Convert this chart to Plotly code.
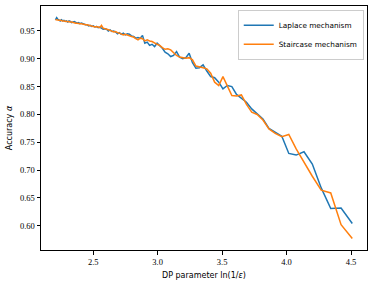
import numpy as np
import plotly.graph_objects as go

# privacy budgets epsilon (x axis shows ln(1/epsilon))
eps = [round(0.011 + 0.001 * i, 3) for i in range(100)]

laplace = [0.604, 0.632, 0.631, 0.668, 0.711, 0.733, 0.727, 0.730, 0.761, 0.769,
           0.775, 0.792, 0.801, 0.810, 0.822, 0.829, 0.836, 0.850, 0.852, 0.846,
           0.858, 0.866, 0.868, 0.878, 0.889, 0.884, 0.883, 0.893, 0.910, 0.902,
           0.900, 0.903, 0.913, 0.906, 0.904, 0.909, 0.912, 0.919, 0.923, 0.928,
           0.922, 0.926, 0.924, 0.930, 0.928, 0.942, 0.937, 0.938, 0.937, 0.940,
           0.941, 0.944, 0.945, 0.943, 0.946, 0.944, 0.947, 0.945, 0.948, 0.950,
           0.949, 0.952, 0.950, 0.953, 0.954, 0.953, 0.955, 0.957, 0.956, 0.958,
           0.957, 0.959, 0.958, 0.960, 0.959, 0.961, 0.961, 0.962, 0.962, 0.964,
           0.963, 0.965, 0.964, 0.965, 0.967, 0.966, 0.965, 0.967, 0.968, 0.966,
           0.968, 0.967, 0.969, 0.968, 0.970, 0.968, 0.969, 0.971, 0.974, 0.970]

staircase = [0.577, 0.602, 0.659, 0.664, 0.689, 0.713, 0.738, 0.764, 0.760, 0.766,
             0.774, 0.790, 0.800, 0.804, 0.818, 0.835, 0.833, 0.834, 0.852, 0.868,
             0.852, 0.858, 0.874, 0.882, 0.884, 0.885, 0.887, 0.898, 0.902, 0.901,
             0.902, 0.903, 0.906, 0.911, 0.916, 0.918, 0.917, 0.920, 0.924, 0.926,
             0.929, 0.931, 0.932, 0.934, 0.932, 0.936, 0.937, 0.934, 0.936, 0.939,
             0.940, 0.941, 0.942, 0.944, 0.943, 0.945, 0.946, 0.947, 0.949, 0.948,
             0.950, 0.951, 0.952, 0.953, 0.953, 0.955, 0.960, 0.956, 0.957, 0.958,
             0.957, 0.958, 0.959, 0.960, 0.960, 0.961, 0.961, 0.962, 0.962, 0.963,
             0.963, 0.964, 0.964, 0.964, 0.965, 0.965, 0.966, 0.966, 0.967, 0.967,
             0.967, 0.968, 0.968, 0.968, 0.969, 0.969, 0.969, 0.970, 0.970, 0.970]

x_ticks = [2.5, 3.0, 3.5, 4.0, 4.5]
y_ticks = [0.60, 0.65, 0.70, 0.75, 0.80, 0.85, 0.90, 0.95]

x = np.log(1.0 / np.array(eps))

fig = go.Figure()
fig.add_trace(go.Scatter(x=x, y=laplace, mode="lines", name="Laplace mechanism",
                         line=dict(color="#1f77b4", width=1.5)))
fig.add_trace(go.Scatter(x=x, y=staircase, mode="lines", name="Staircase mechanism",
                         line=dict(color="#ff7f0e", width=1.5)))

serif = "Liberation Serif, DejaVu Serif, serif"
sans = "DejaVu Sans, sans-serif"

axis_common = dict(showgrid=False, zeroline=False, showline=True, linecolor="black",
                   linewidth=1, mirror=True, ticks="outside", ticklen=3.5,
                   tickwidth=0.8, tickcolor="black", automargin=False,
                   tickfont=dict(family=serif, size=8.5, color="black"))

fig.update_layout(
    width=374, height=284,
    margin=dict(l=41, r=7, t=6, b=34, autoexpand=False),
    paper_bgcolor="white", plot_bgcolor="white",
    xaxis=dict(range=[2.095, 4.624], tickvals=x_ticks,
               ticktext=[f"{v:.1f}" for v in x_ticks],
               title=dict(text="DP parameter ln(1/<i>ε</i>)",
                          font=dict(family=sans, size=8, color="black"), standoff=6),
               **axis_common),
    yaxis=dict(range=[0.5565, 0.9948], tickvals=y_ticks,
               ticktext=[f"{v:.2f}" for v in y_ticks],
               title=dict(text="Accuracy <i>α</i>",
                          font=dict(family=sans, size=8, color="black"), standoff=6),
               **axis_common),
    legend=dict(x=0.99, y=0.985, xanchor="right", yanchor="top",
                bgcolor="rgba(255,255,255,0.8)", bordercolor="#cccccc", borderwidth=1,
                font=dict(family=sans, size=7.3, color="black"),
                itemwidth=30, tracegroupgap=0),
    showlegend=True,
)

fig.write_html("out.html", config={"displayModeBar": False},
               post_script="document.body.style.margin='0';document.body.style.overflow='hidden';")
